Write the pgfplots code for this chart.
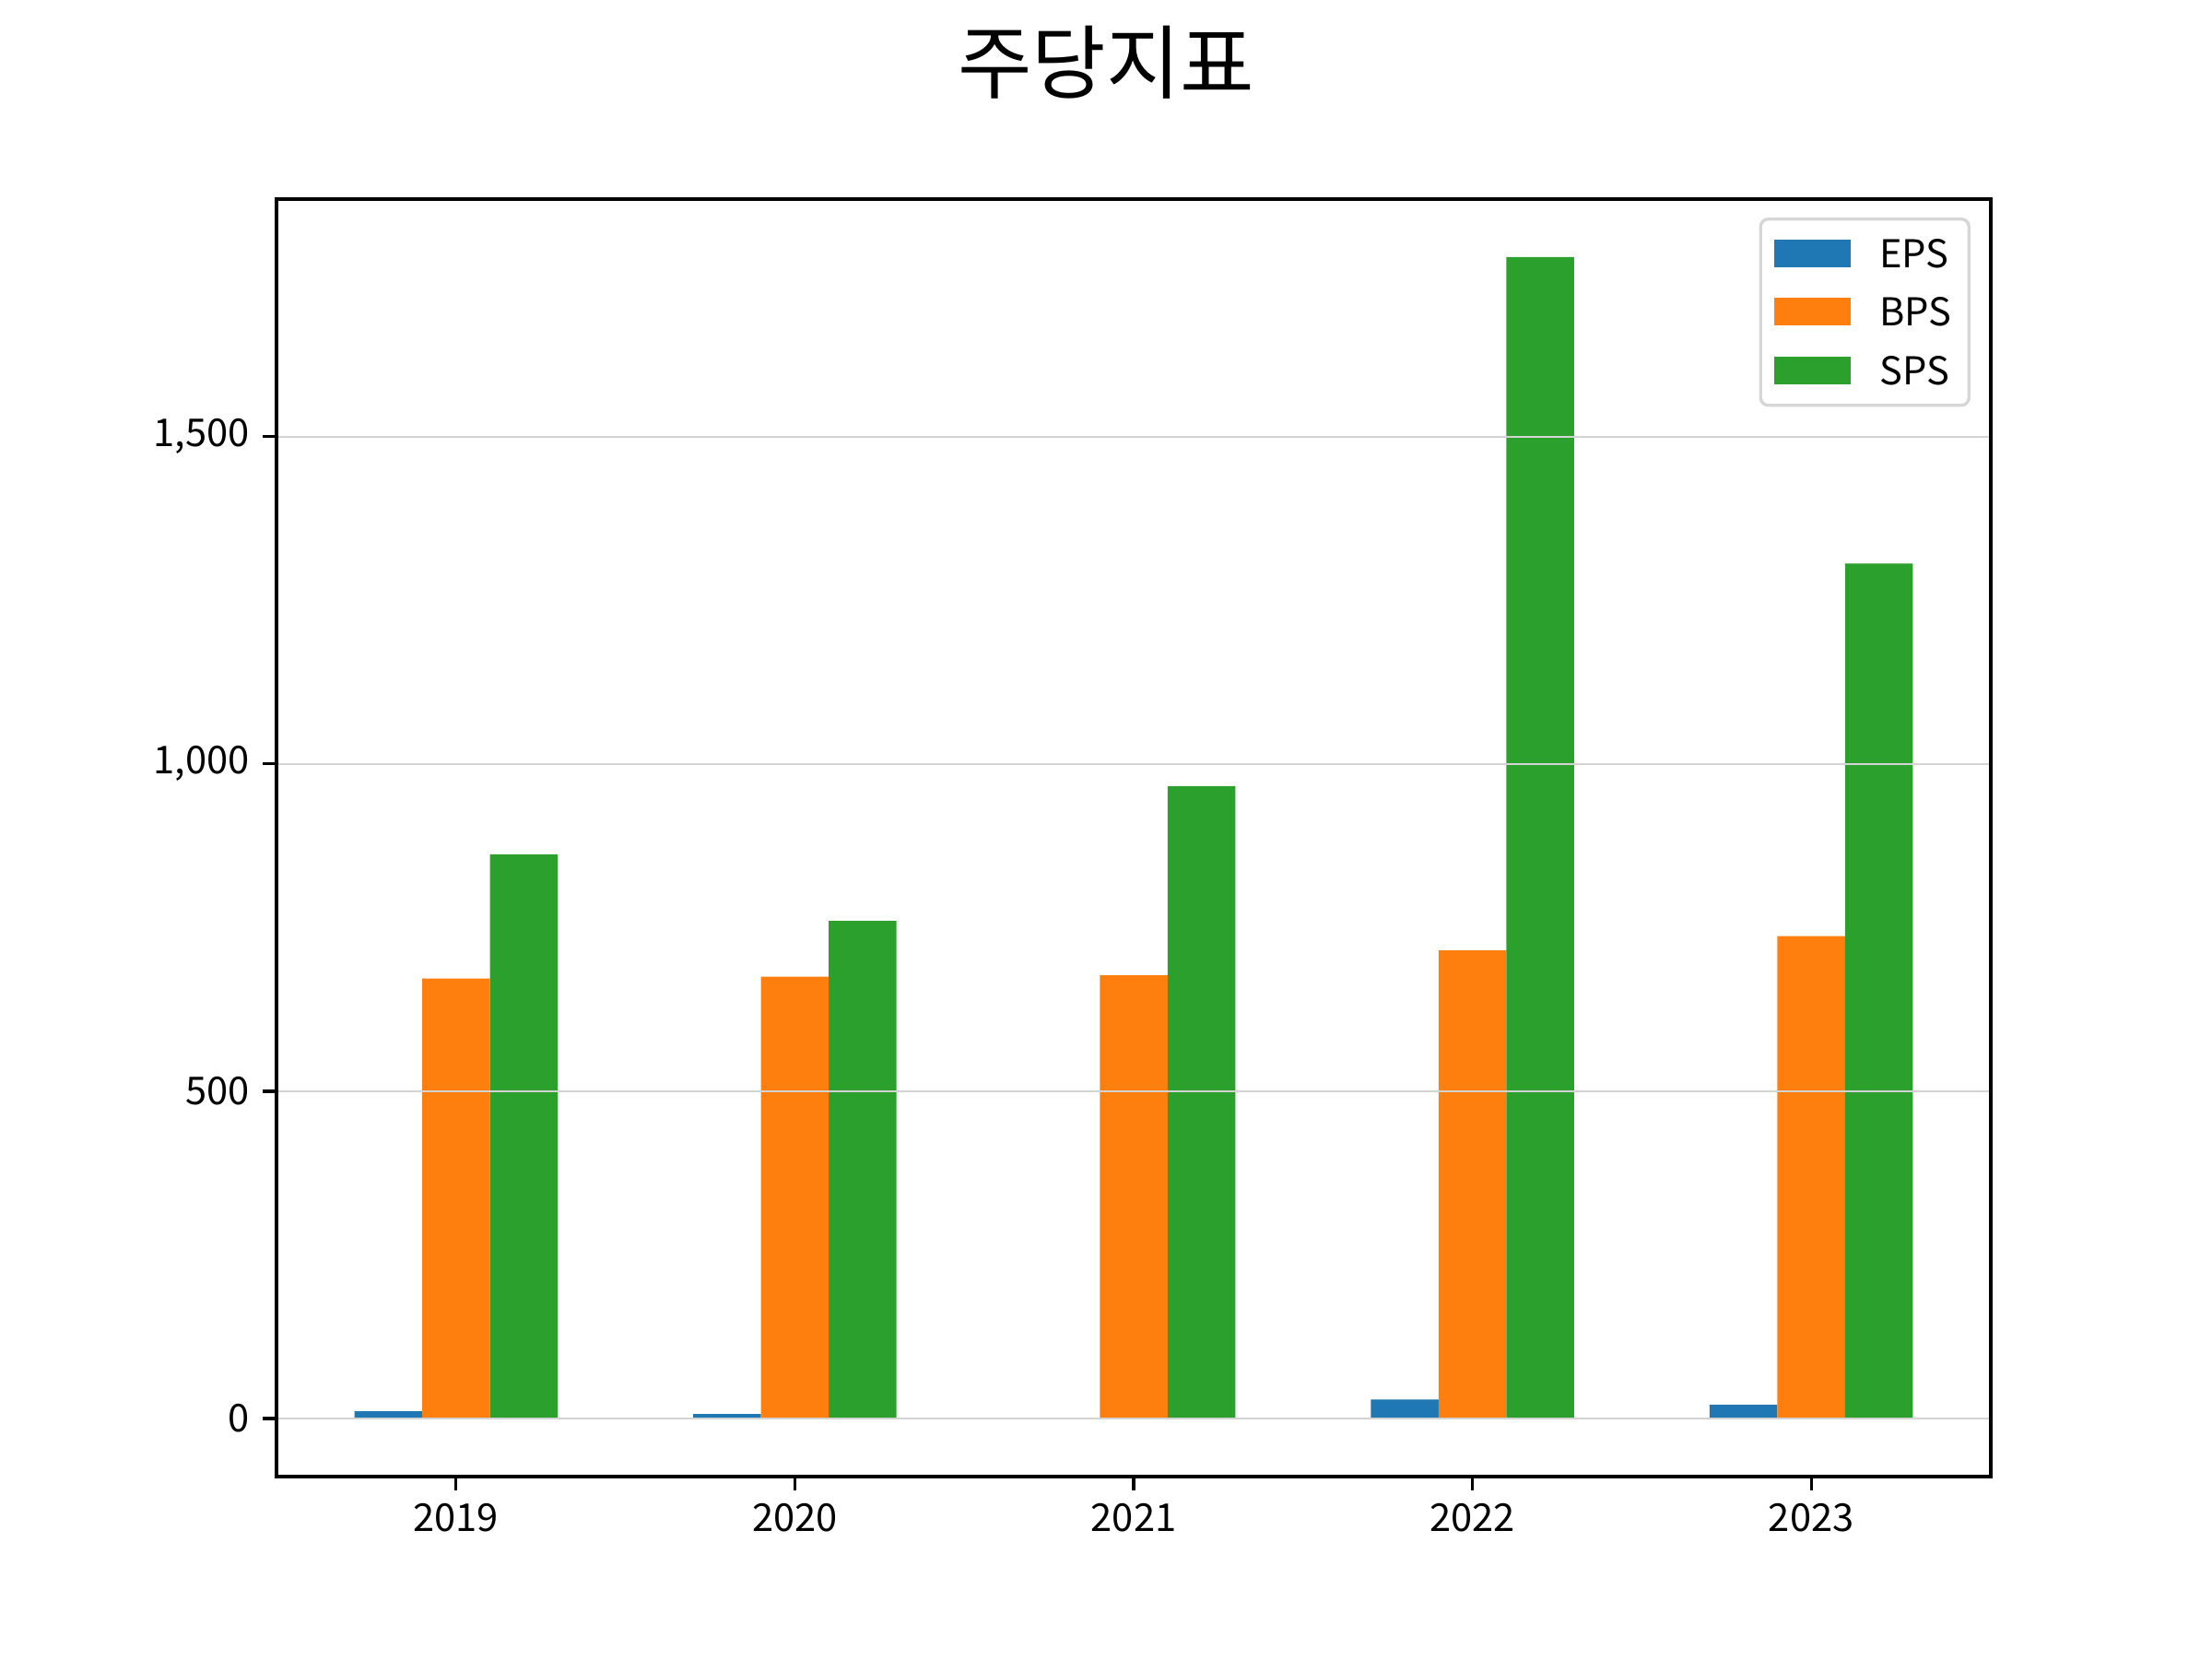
\documentclass[border=0pt]{standalone}
\usepackage{fontspec}
\setmainfont{Noto Sans CJK KR}
\usepackage{pgfplots}
\pgfplotsset{compat=1.18}
\definecolor{cEPS}{HTML}{1F77B4}
\definecolor{cBPS}{HTML}{FF7F0E}
\definecolor{cSPS}{HTML}{2CA02C}
\definecolor{gridc}{RGB}{211,211,211}
\definecolor{legc}{RGB}{214,214,214}
\begin{document}
\begin{tikzpicture}
\path[use as bounding box] (0,0) rectangle (576pt,432pt);
\node[font=\fontsize{21}{25}\selectfont, anchor=center, inner sep=0pt] at (288pt,415.7pt) {주당지표};
\begin{axis}[
  at={(72pt,47.52pt)}, anchor=south west,
  scale only axis, width=446.4pt, height=332.64pt,
  xmin=-0.53, xmax=4.53, ymin=-88.7, ymax=1862.7,
  ybar, bar width=0.2,
  xtick={0,1,2,3,4}, xticklabels={2019,2020,2021,2022,2023},
  ytick={0,500,1000,1500},
  ymajorgrids, grid style={draw=gridc, line width=0.5pt},
  axis on top,
  axis line style={line width=0.8pt},
  tick style={line width=0.8pt, black},
  tick align=outside, major tick length=3.5pt,
  xtick pos=bottom, ytick pos=left,
  ticklabel style={font=\fontsize{10}{12}\selectfont},
  /pgf/number format/assume math mode=true,
  yticklabel style={/pgf/number format/1000 sep={,}},
  legend cell align=left,
  legend image code/.code={\fill[#1, sharp corners] (0pt,-3.5pt) rectangle (20pt,3.7pt);},
  legend style={at={(1,1)}, anchor=north east, xshift=-5.3pt, yshift=-4.8pt,
    draw=legc, line width=0.8pt, rounded corners=2pt,
    font=\fontsize{10}{12}\selectfont,
    inner xsep=3.5pt, inner ysep=3.4pt, row sep=3.9pt,
    nodes={inner ysep=2pt, inner xsep=1pt, text height=7.3pt, text depth=0pt},
    /tikz/every odd column/.append style={column sep=6.5pt}},
]
\addplot[fill=cEPS, draw=none, bar shift=-0.2] coordinates {(0,11) (1,7) (2,0) (3,29) (4,21)};
\addlegendentry{EPS}
\addplot[fill=cBPS, draw=none, bar shift=0] coordinates {(0,672) (1,675) (2,677) (3,715) (4,737)};
\addlegendentry{BPS}
\addplot[fill=cSPS, draw=none, bar shift=0.2] coordinates {(0,862) (1,760) (2,966) (3,1774) (4,1306)};
\addlegendentry{SPS}
\end{axis}
\end{tikzpicture}
\end{document}
